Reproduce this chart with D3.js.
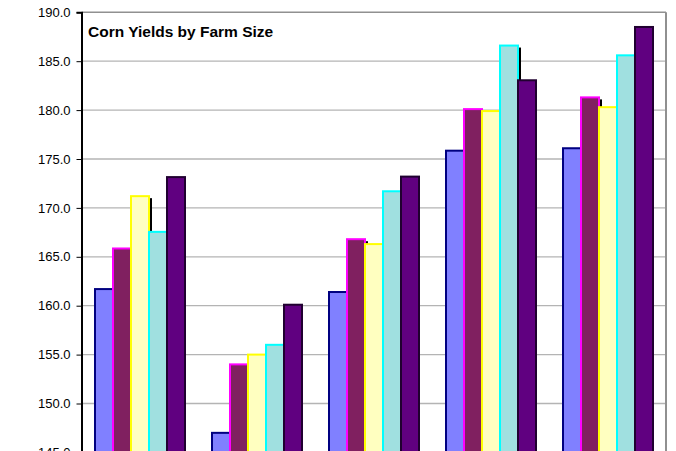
<!DOCTYPE html>
<html>
<head>
<meta charset="utf-8">
<script src="https://cdn.jsdelivr.net/npm/d3@7"></script>
<style>
  html, body { margin: 0; padding: 0; background: #fff; overflow: hidden; }
  svg { display: block; }
</style>
</head>
<body>
<svg id="chart" width="676" height="451"></svg>
<script>
const title = "Corn Yields by Farm Size";
const categories = ["Size 1", "Size 2", "Size 3", "Size 4", "Size 5"];
const seriesNames = ["Series 1", "Series 2", "Series 3", "Series 4", "Series 5"];
const series1 = [161.7, 147.0, 161.4, 175.85, 176.1];
const series2 = [165.85, 154.0, 166.8, 180.1, 181.3];
const series3 = [171.2, 155.0, 166.3, 179.9, 180.3];
const series4 = [167.55, 156.0, 171.7, 186.6, 185.6];
const series5 = [173.15, 160.1, 173.2, 183.05, 188.5];
const yTicks = [145, 150, 155, 160, 165, 170, 175, 180, 185, 190];
const fills = ["#8080ff", "#802060", "#ffffc0", "#a0e0e0", "#600080"];
const strokes = ["#000080", "#ff00ff", "#ffff00", "#00ffff", "#200030"];

const allSeries = [series1, series2, series3, series4, series5];

(function () {
const svg = d3.select("#chart");
const pLeft = 81.5, pRight = 666, pTop = 12.3, pBottom = 452.4;

const y = d3.scaleLinear().domain([145, 190]).range([pBottom, pTop]);
const x0 = d3.scaleBand().domain(categories).range([pLeft, pLeft + 585]).padding(0);
const x1 = d3.scaleBand().domain(seriesNames).range([13.5, 103.5]).padding(0);

// gridlines
svg.append("g").selectAll("line").data(yTicks.filter(t => t > 145 && t < 190)).join("line")
  .attr("x1", pLeft).attr("x2", pRight)
  .attr("y1", d => y(d)).attr("y2", d => y(d))
  .attr("stroke", "#b4b4b4").attr("stroke-width", 1.3);

// plot border top/right
svg.append("line").attr("x1", pLeft).attr("x2", pRight).attr("y1", y(190)).attr("y2", y(190))
  .attr("stroke", "#909090").attr("stroke-width", 1.5);
svg.append("line").attr("x1", pRight).attr("x2", pRight).attr("y1", y(190)).attr("y2", pBottom)
  .attr("stroke", "#909090").attr("stroke-width", 2);

// bars
const barsG = svg.append("g");
categories.forEach((cat, g) => {
  allSeries.forEach((vals, s) => {
    const bx = x0(cat) + x1(seriesNames[s]);
    const bw = x1.bandwidth();
    const by = y(vals[g]);
    if (s < allSeries.length - 1) {
      barsG.append("rect")
        .attr("x", bx + 4).attr("y", by + 2)
        .attr("width", bw - 1).attr("height", pBottom - by)
        .attr("fill", "#000");
    }
    barsG.append("rect")
      .attr("x", bx).attr("y", by)
      .attr("width", bw).attr("height", pBottom - by)
      .attr("fill", fills[s])
      .attr("stroke", strokes[s]).attr("stroke-width", 2);
  });
});

// y axis
const yAxis = d3.axisLeft(y).tickValues(yTicks).tickFormat(d3.format(".1f")).tickSize(5).tickPadding(6);
const ax = svg.append("g").attr("transform", `translate(${pLeft},0)`).call(yAxis);
ax.select(".domain").attr("stroke", "#000").attr("stroke-width", 2);
ax.selectAll(".tick line").attr("stroke", "#000").attr("stroke-width", 1);
ax.selectAll(".tick text")
  .attr("font-family", "Liberation Sans, Arial, sans-serif")
  .attr("font-size", 13).attr("fill", "#000");

// title
svg.append("text").attr("x", 88).attr("y", 37)
  .attr("font-family", "Liberation Sans, Arial, sans-serif")
  .attr("font-size", 15.5).attr("font-weight", "bold").attr("fill", "#000")
  .text(title);
})();
</script>
</body>
</html>
